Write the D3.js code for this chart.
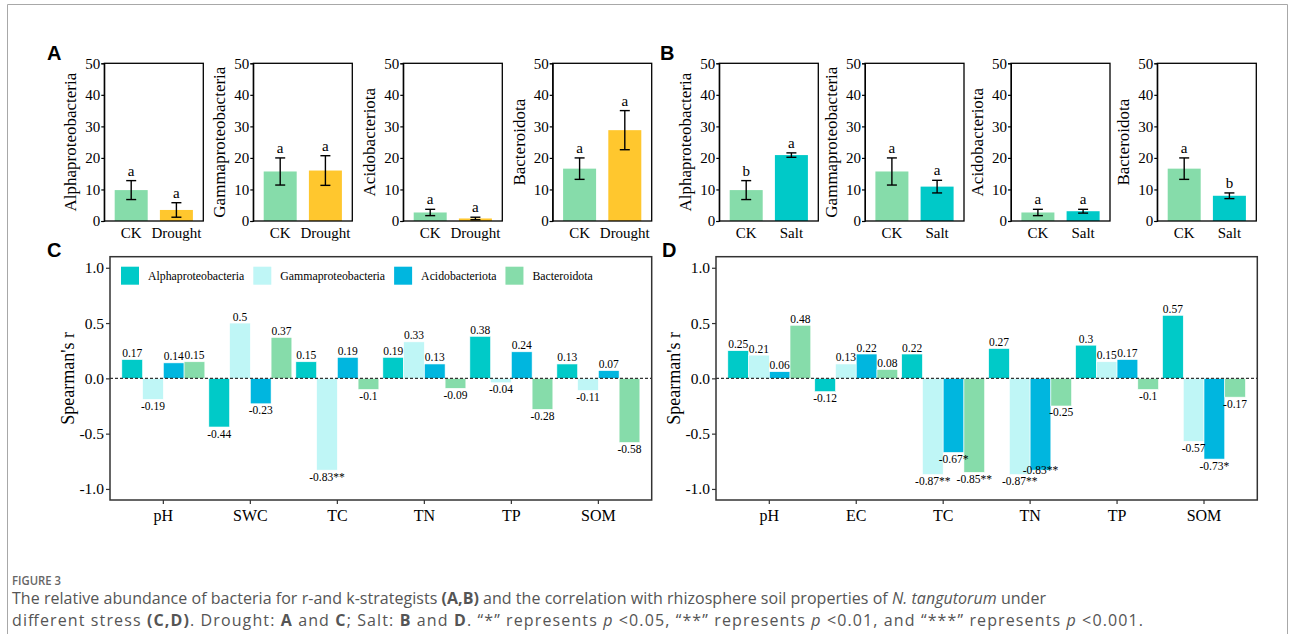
<html>
<head>
<meta charset="utf-8">
<script src="https://cdn.jsdelivr.net/npm/d3@7"></script>
<style>
body{margin:0;background:#fff}
svg text{font-family:"Liberation Serif","Times New Roman",serif;fill:#000}
svg text.cap{font-family:"Open Sans",sans-serif;fill:#555}
svg text.lett{font-family:"Liberation Sans",Arial,sans-serif;font-weight:bold}
</style>
</head>
<body>
<svg width=1293 height=634></svg>
<script>
// ---- data: panels A and B (relative abundance, %)
const taxa=["Alphaproteobacteria","Gammaproteobacteria","Acidobacteriota","Bacteroidota"]
const droughtGroups=["CK","Drought"]
const saltGroups=["CK","Salt"]
const droughtMean=[[9.8,3.5],[15.7,16.0],[2.7,0.8],[16.6,28.8]]
const droughtErr=[[3.0,2.3],[4.3,4.7],[1.0,0.4],[3.4,6.2]]
const droughtLetters=[["a","a"],["a","a"],["a","a"],["a","a"]]
const saltMean=[[9.8,20.9],[15.7,10.9],[2.7,3.1],[16.6,8.0]]
const saltErr=[[3.0,0.7],[4.3,2.0],[1.0,0.6],[3.4,0.9]]
const saltLetters=[["b","a"],["a","a"],["a","a"],["a","b"]]
const abundTicks=[0,10,20,30,40,50]

// ---- data: panels C and D (Spearman's r, one row per soil property, columns follow taxa)
const droughtProps=["pH","SWC","TC","TN","TP","SOM"]
const droughtR=[[0.17,-0.19,0.14,0.15],[-0.44,0.5,-0.23,0.37],[0.15,-0.83,0.19,-0.1],
  [0.19,0.33,0.13,-0.09],[0.38,-0.04,0.24,-0.28],[0.13,-0.11,0.07,-0.58]]
const droughtSig=[["","","",""],["","","",""],["","**","",""],["","","",""],["","","",""],["","","",""]]
const saltProps=["pH","EC","TC","TN","TP","SOM"]
const saltR=[[0.25,0.21,0.06,0.48],[-0.12,0.13,0.22,0.08],[0.22,-0.87,-0.67,-0.85],
  [0.27,-0.87,-0.83,-0.25],[0.3,0.15,0.17,-0.1],[0.57,-0.57,-0.73,-0.17]]
const saltSig=[["","","",""],["","","",""],["","**","*","**"],["","**","**",""],["","","",""],["","","*",""]]
const rTicks=[-1,-0.5,0,0.5,1]

const ckColor="#86dcaa", droughtColor="#ffc72e", saltColor="#00c9c8"
const taxaColor=["#00cac8","#bff6f6","#00b6df","#86dcaa"]
const serif='"Liberation Serif","Times New Roman",serif'

const svg=d3.select("svg")

// page frame
svg.append("path").attr("d","M7.5,634V4.5H1287.5V634").attr("fill","none").attr("stroke","#a8a8a8")

function barPanel(lefts,groups,means,errs,letters,treatColor){
  const top=63.3, bottom=221, w=99
  const colors=[ckColor,treatColor]
  lefts.forEach((left,i)=>{
    const x=d3.scaleBand().domain(groups).range([left,left+w]).paddingInner(0.27).paddingOuter(0.23)
    const y=d3.scaleLinear().domain([0,50]).range([bottom,top])
    const g=svg.append("g")
    const rows=groups.map((k,j)=>({k:k,m:means[i][j],e:errs[i][j],l:letters[i][j],c:colors[j]}))

    g.selectAll(".bar").data(rows).enter().append("rect")
      .attr("x",d=>x(d.k)).attr("width",x.bandwidth())
      .attr("y",d=>y(d.m)).attr("height",d=>y(0)-y(d.m))
      .attr("fill",d=>d.c)

    const cx=d=>x(d.k)+x.bandwidth()/2
    const eb=g.selectAll(".eb").data(rows).enter().append("g").attr("stroke","#000").attr("stroke-width",1.4)
    eb.append("line").attr("x1",cx).attr("x2",cx).attr("y1",d=>y(d.m+d.e)).attr("y2",d=>y(d.m-d.e))
    eb.append("line").attr("x1",d=>cx(d)-5).attr("x2",d=>cx(d)+5).attr("y1",d=>y(d.m+d.e)).attr("y2",d=>y(d.m+d.e))
    eb.append("line").attr("x1",d=>cx(d)-5).attr("x2",d=>cx(d)+5).attr("y1",d=>y(d.m-d.e)).attr("y2",d=>y(d.m-d.e))

    g.selectAll(".lt").data(rows).enter().append("text")
      .attr("x",cx).attr("y",d=>y(d.m+d.e)-5).attr("text-anchor","middle")
      .style("font-size","15px").text(d=>d.l)

    const ax=g.append("g").attr("transform","translate("+left+",0)")
      .call(d3.axisLeft(y).tickValues(abundTicks).tickSize(3).tickPadding(1))
    ax.attr("font-family",serif)
    ax.selectAll("text").style("font-size","15px").style("font-family",serif)
    ax.selectAll("line").attr("stroke-width",1.2)

    g.append("rect").attr("x",left).attr("y",top).attr("width",w).attr("height",bottom-top)
      .attr("fill","none").attr("stroke","#000").attr("stroke-width",1.3)

    g.selectAll(".xl").data(groups).enter().append("text")
      .attr("x",d=>x(d)+x.bandwidth()/2).attr("y",238).attr("text-anchor","middle")
      .style("font-size","15px").text(d=>d)

    g.append("text").attr("transform","translate("+(left-34)+","+((top+bottom)/2)+") rotate(-90)")
      .attr("text-anchor","middle").attr("dy","0.35em").style("font-size","17px").text(taxa[i])
  })
}

barPanel([104.3,253.3,403.3,552.7],droughtGroups,droughtMean,droughtErr,droughtLetters,droughtColor)
barPanel([719.3,865,1011,1157.3],saltGroups,saltMean,saltErr,saltLetters,saltColor)

function corrPanel(left,right,props,rv,sig,legend){
  const top=256.7, bottom=500
  const x=d3.scaleBand().domain(props).range([left,right]).paddingInner(0.046).paddingOuter(0.136)
  const xs=d3.scaleBand().domain(taxa).range([0,x.bandwidth()])
  const y=d3.scaleLinear().domain([-1.1,1.1]).range([bottom,top])
  const g=svg.append("g")

  const rows=[]
  props.forEach((p,i)=>taxa.forEach((t,j)=>rows.push({p:p,t:t,j:j,v:rv[i][j],s:sig[i][j],c:taxaColor[j]})))

  g.selectAll(".cb").data(rows).enter().append("rect")
    .attr("x",d=>x(d.p)+xs(d.t)).attr("width",xs.bandwidth())
    .attr("y",d=>y(Math.max(0,d.v))).attr("height",d=>Math.abs(y(d.v)-y(0)))
    .attr("fill",d=>d.c).attr("stroke","#fff").attr("stroke-width",0.6)

  g.append("line").attr("x1",left).attr("x2",right).attr("y1",y(0)).attr("y2",y(0))
    .attr("stroke","#333").attr("stroke-width",1.3).attr("stroke-dasharray","3,2")

  // label positions, lift a negative label that would sit on top of its left neighbour's
  rows.forEach(d=>{d.lx=x(d.p)+xs(d.t)+xs.bandwidth()/2; d.ly=d.v>=0?y(d.v)-2.5:y(d.v)+10.5})
  rows.forEach((d,k)=>{
    const prev=rows[k-1]
    if(d.j>0&&d.v<0&&prev.v<0&&(d.s||prev.s)&&Math.abs(d.ly-prev.ly)<11){
      if(d.ly<prev.ly) d.ly=prev.ly-11.5; else prev.ly=d.ly-11.5
    }
  })

  g.selectAll(".vl").data(rows).enter().append("text")
    .attr("x",d=>d.lx).attr("y",d=>d.ly)
    .attr("text-anchor","middle").style("font-size","11.5px")
    .text(d=>String(d.v)+d.s)

  const ay=g.append("g").attr("transform","translate("+left+",0)")
    .call(d3.axisLeft(y).tickValues(rTicks).tickSize(4).tickPadding(2).tickFormat(d=>d.toFixed(1)))
  ay.attr("font-family",serif)
  ay.selectAll("text").style("font-size","15.5px").style("font-family",serif).attr("fill","#1a1a1a")
  ay.selectAll("line").attr("stroke","#333").attr("stroke-width",1.2)

  const axb=g.append("g").attr("transform","translate(0,"+bottom+")")
    .call(d3.axisBottom(x).tickSize(4).tickPadding(6))
  axb.attr("font-family",serif)
  axb.selectAll("text").style("font-size","16px").style("font-family",serif).attr("fill","#1a1a1a")
  axb.selectAll("line").attr("stroke","#333").attr("stroke-width",1.2)
  axb.select(".domain").remove()
  ay.select(".domain").remove()

  g.append("rect").attr("x",left).attr("y",top).attr("width",right-left).attr("height",bottom-top)
    .attr("fill","none").attr("stroke","#333").attr("stroke-width",1.5)

  g.append("text").attr("transform","translate("+(left-42)+","+((top+bottom)/2)+") rotate(-90)")
    .attr("text-anchor","middle").attr("dy","0.35em").style("font-size","18px").text("Spearman's r")

  if(legend){
    let lx=left+11
    taxa.forEach((t,j)=>{
      g.append("rect").attr("x",lx).attr("y",266.7).attr("width",18).attr("height",18).attr("fill",taxaColor[j])
      const tx=g.append("text").attr("x",lx+27).attr("y",279.5).style("font-size","11.8px").attr("fill","#222").text(t)
      lx+=27+tx.node().getComputedTextLength()+9
    })
  }
}

corrPanel(110,651.7,droughtProps,droughtR,droughtSig,true)
corrPanel(716,1257.3,saltProps,saltR,saltSig,false)

// panel letters
const letters=[["A",47,60],["B",660,60],["C",47,257],["D",662,257]]
svg.selectAll(".pl").data(letters).enter().append("text").attr("class","lett")
  .attr("x",d=>d[1]).attr("y",d=>d[2]).style("font-size","20px").text(d=>d[0])

// caption
svg.append("text").attr("class","cap").attr("x",12).attr("y",585).style("font-size","13px")
  .attr("font-weight",600).attr("textLength",49).attr("lengthAdjust","spacingAndGlyphs").style("fill","#666").text("FIGURE 3")
const l1=svg.append("text").attr("class","cap").attr("x",12).attr("y",604).style("font-size","16px").attr("textLength",1034)
l1.append("tspan").text("The relative abundance of bacteria for r-and k-strategists ")
l1.append("tspan").attr("font-weight","bold").text("(A,B)")
l1.append("tspan").text(" and the correlation with rhizosphere soil properties of ")
l1.append("tspan").attr("font-style","italic").text("N. tangutorum")
l1.append("tspan").text(" under")
const l2=svg.append("text").attr("class","cap").attr("x",12).attr("y",626).style("font-size","16px").attr("textLength",1131)
const parts=[["different stress ",""],["(C,D)","b"],[". Drought: ",""],["A","b"],[" and ",""],["C","b"],["; Salt: ",""],["B","b"],[" and ",""],["D","b"],
  [". \u201c*\u201d represents ",""],["p","i"],[" <0.05, \u201c**\u201d represents ",""],["p","i"],[" <0.01, and \u201c***\u201d represents ",""],["p","i"],[" <0.001.",""]]
parts.forEach(p=>{
  const t=l2.append("tspan").text(p[0])
  if(p[1]=="b") t.attr("font-weight","bold")
  if(p[1]=="i") t.attr("font-style","italic")
})
</script>
</body>
</html>
